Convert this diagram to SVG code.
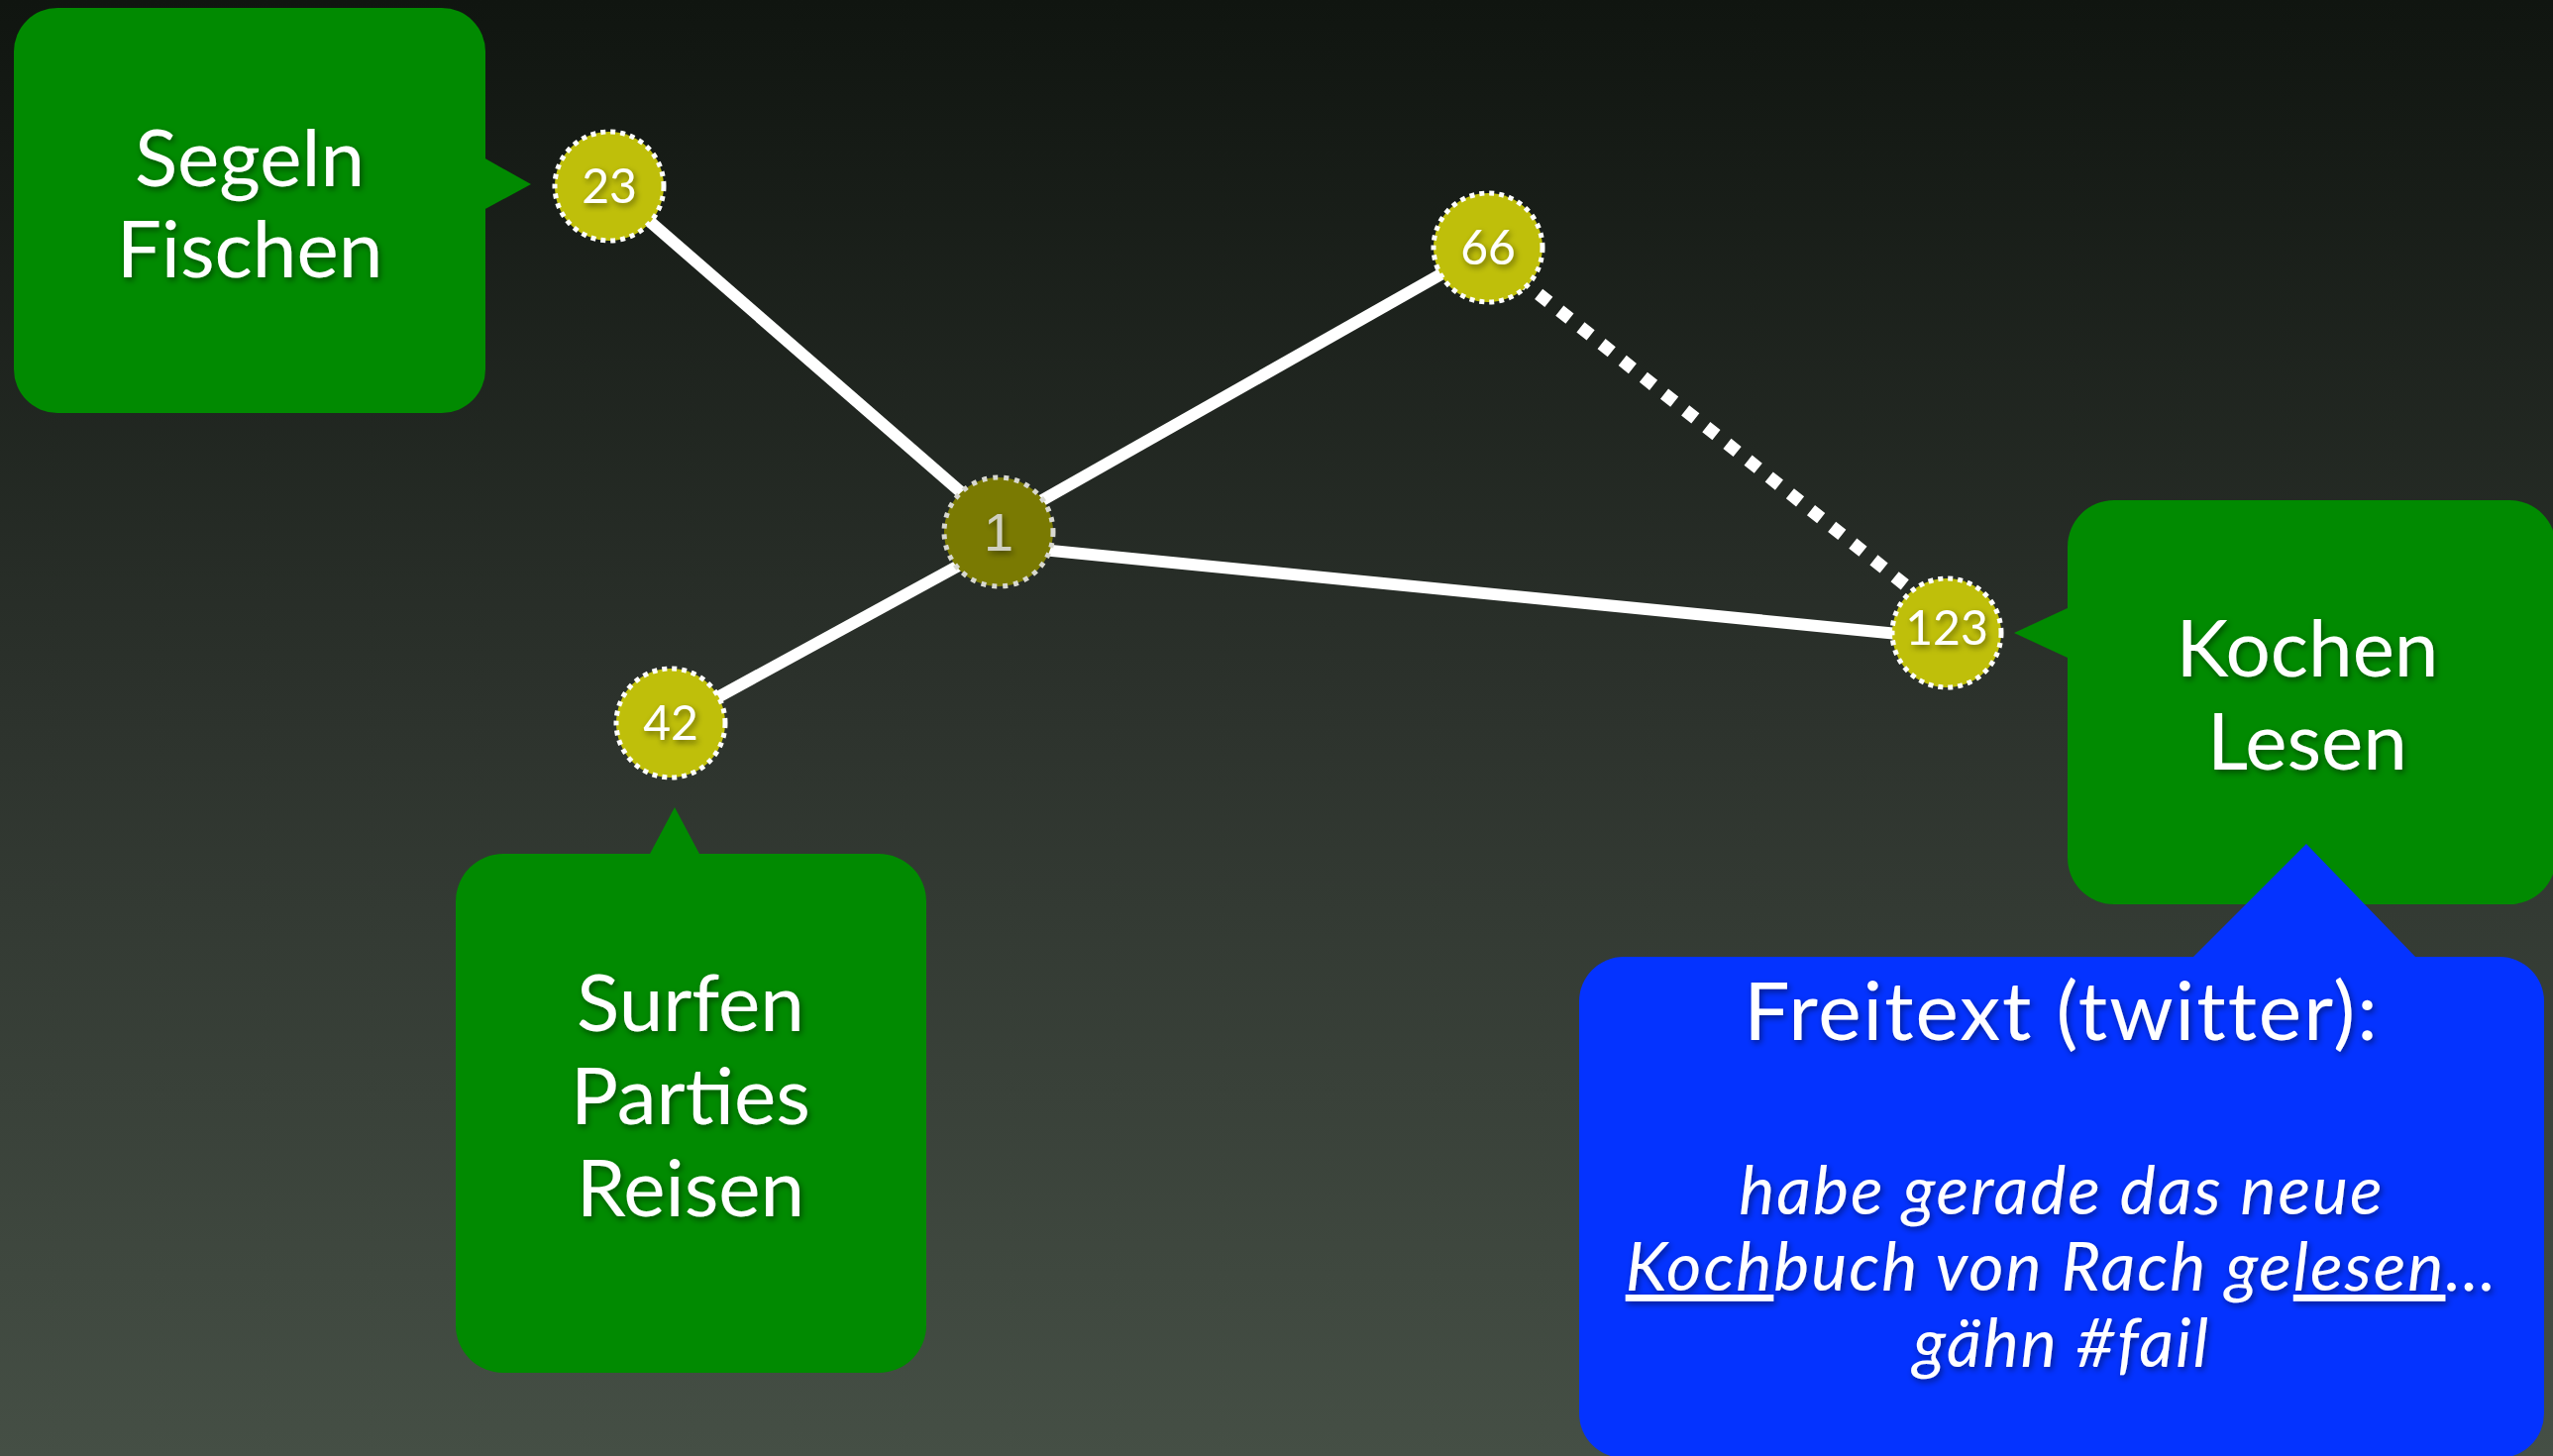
<svg xmlns="http://www.w3.org/2000/svg" width="2577" height="1470" viewBox="0 0 2577 1470">
  <defs>
    <linearGradient id="bg" x1="0" y1="0" x2="0" y2="1">
      <stop offset="0" stop-color="#101510"/>
      <stop offset="0.5" stop-color="#2d332d"/>
      <stop offset="1" stop-color="#454f45"/>
    </linearGradient>
    <filter id="ts" x="-20%" y="-20%" width="140%" height="140%">
      <feDropShadow dx="2" dy="3" stdDeviation="3" flood-color="#000" flood-opacity="0.45"/>
    </filter>
  </defs>
  <style>
    .callout { fill: #018a01; }
    .blue { fill: #0433ff; }
    .label { font-family: Lato, "Open Sans", sans-serif; font-size: 80px; fill: #ffffff; text-anchor: middle; filter: url(#ts); }
    .node { fill: #bfbf0a; stroke: #ffffff; stroke-width: 5; stroke-dasharray: 5 5; }
    .node1 { fill: #7a7a02; stroke: #d8d8d0; stroke-width: 5; stroke-dasharray: 5 6; }
    .num { font-family: Lato, "Open Sans", sans-serif; font-size: 48px; fill: #ffffff; text-anchor: middle; filter: url(#ts); }
    .num1 { font-family: "Liberation Sans", Arial, sans-serif; font-size: 54px; fill: #cfcfc0; text-anchor: middle; filter: url(#ts); }
    .edge { stroke: #ffffff; stroke-width: 12; fill: none; }
    .dotted { stroke: #ffffff; stroke-width: 13; stroke-dasharray: 13 14; fill: none; }
    .tw { font-family: Lato, "Open Sans", sans-serif; fill: #ffffff; text-anchor: middle; filter: url(#ts); }
  </style>

  <rect x="0" y="0" width="2577" height="1470" fill="url(#bg)"/>

  <g id="connectors">
    <line class="edge" x1="615" y1="188" x2="1008" y2="530"/>
    <line class="edge" x1="1008" y1="530" x2="1502" y2="250"/>
    <line class="edge" x1="1000" y1="550" x2="1967" y2="645"/>
    <line class="edge" x1="677" y1="730" x2="1008" y2="549"/>
    <line class="dotted" x1="1532" y1="280" x2="1940" y2="604"/>
  </g>

  <g id="callout-segeln">
    <rect class="callout" x="14" y="8" width="476" height="409" rx="44" ry="44"/>
    <polygon class="callout" points="488,159 536,186 488,212"/>
    <text class="label" x="252" y="188">Segeln</text>
    <text class="label" x="252" y="280">Fischen</text>
  </g>

  <g id="callout-surfen">
    <rect class="callout" x="460" y="862" width="475" height="524" rx="48" ry="48"/>
    <polygon class="callout" points="655,864 681,815 707,864"/>
    <text class="label" x="697" y="1041">Surfen</text>
    <text class="label" x="697" y="1135">Parties</text>
    <text class="label" x="697" y="1228">Reisen</text>
  </g>

  <g id="callout-kochen">
    <rect class="callout" x="2087" y="505" width="493" height="408" rx="47" ry="47"/>
    <polygon class="callout" points="2089,613 2033,639 2089,665"/>
    <text class="label" x="2329" y="683">Kochen</text>
    <text class="label" x="2329" y="777">Lesen</text>
  </g>

  <g id="callout-freitext">
    <rect class="blue" x="1594" y="966" width="974" height="506" rx="45" ry="45"/>
    <polygon class="blue" points="2212,968 2328,852 2440,968"/>
    <text class="tw" x="2081" y="1050" font-size="82" letter-spacing="2">Freitext (twitter):</text>
    <text class="tw" x="2081" y="1226" font-size="68" font-style="italic" letter-spacing="2">habe gerade das neue</text>
    <text class="tw" x="2081" y="1303" font-size="68" font-style="italic" letter-spacing="2"><tspan text-decoration="underline">Koch</tspan>buch von Rach ge<tspan text-decoration="underline">lesen</tspan>…</text>
    <text class="tw" x="2081" y="1380" font-size="68" font-style="italic" letter-spacing="2">gähn #fail</text>
  </g>

  <g id="node-23">
    <circle class="node" cx="615" cy="188" r="55"/>
    <text class="num" x="615" y="205">23</text>
  </g>
  <g id="node-66">
    <circle class="node" cx="1502" cy="250" r="55"/>
    <text class="num" x="1502" y="267">66</text>
  </g>
  <g id="node-42">
    <circle class="node" cx="677" cy="730" r="55"/>
    <text class="num" x="677" y="747">42</text>
  </g>
  <g id="node-123">
    <circle class="node" cx="1965" cy="639" r="55"/>
    <text class="num" x="1965" y="651" font-size="34">123</text>
  </g>
  <g id="node-1">
    <circle class="node1" cx="1008" cy="537" r="55"/>
    <text class="num1" x="1008" y="556">1</text>
  </g>
</svg>
